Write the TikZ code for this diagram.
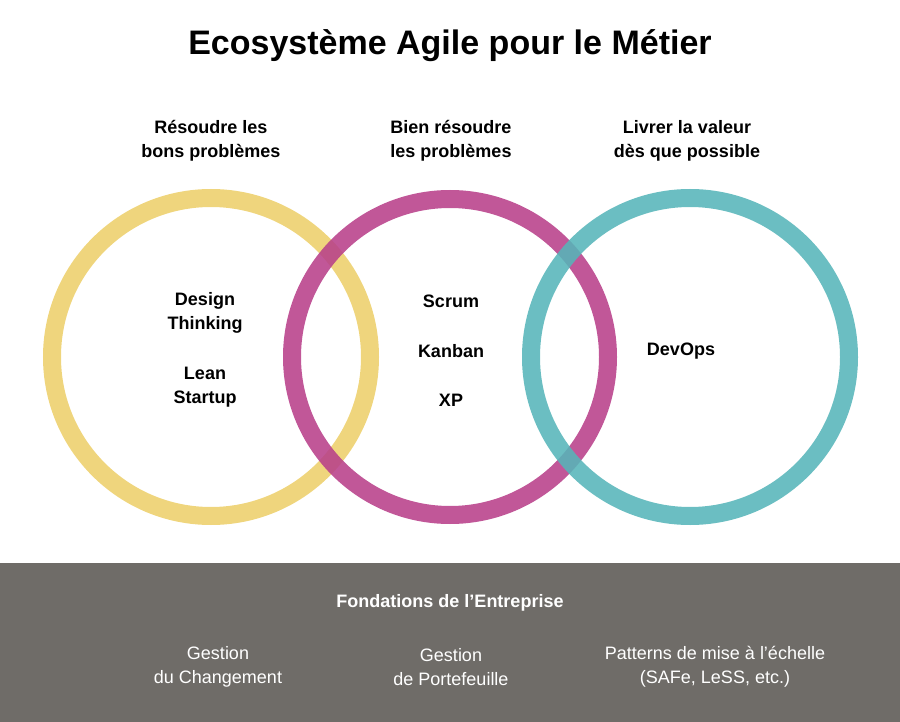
\documentclass[tikz,border=0pt]{standalone}
\usepackage{fontspec}
\setmainfont{Liberation Sans}
\definecolor{ringyel}{HTML}{EDCF6B}
\definecolor{ringmag}{HTML}{B8408A}
\definecolor{ringteal}{HTML}{57B5B9}
\definecolor{bandgray}{HTML}{6F6C68}
\begin{document}
\begin{tikzpicture}[x=1pt,y=-1pt,
  ring/.style={line width=18pt,draw opacity=0.88},
  hdr/.style={align=center,font=\fontsize{18}{24}\selectfont\bfseries},
  inner/.style={align=center,font=\fontsize{18}{24}\selectfont\bfseries},
  foot/.style={align=center,text=white,font=\fontsize{18}{24}\selectfont}]
\useasboundingbox (0,0) rectangle (900,722);
\fill[bandgray] (0,563) rectangle (900,722);
\node[font=\fontsize{34}{40}\selectfont\bfseries] (title) at (450,46) {Ecosystème Agile pour le Métier};
\draw[ring,ringyel] (211,357) circle (159);
\draw[ring,ringmag] (450,357) circle (158);
\draw[ring,ringteal] (690,357) circle (159);
\node[hdr] (h1) at (211,141) {Résoudre les\\bons problèmes};
\node[hdr] (h2) at (451,141) {Bien résoudre\\les problèmes};
\node[hdr] (h3) at (687,141) {Livrer la valeur\\dès que possible};
\node[inner] (dt) at (205,313) {Design\\Thinking};
\node[inner] (ls) at (205,387) {Lean\\Startup};
\node[inner] (sc) at (451,301) {Scrum};
\node[inner] (kb) at (451,351) {Kanban};
\node[inner] (xp) at (451,400) {XP};
\node[inner] (do) at (681,351) {DevOps};
\node[foot,font=\fontsize{18}{24}\selectfont\bfseries] (fd) at (450,603) {Fondations de l'Entreprise};
\node[foot] (f1) at (218,667) {Gestion\\du Changement};
\node[foot] (f2) at (451,667) {Gestion\\de Portefeuille};
\node[foot] (f3) at (715,667) {Patterns de mise à l'échelle\\(SAFe, LeSS, etc.)};
\end{tikzpicture}
\end{document}
